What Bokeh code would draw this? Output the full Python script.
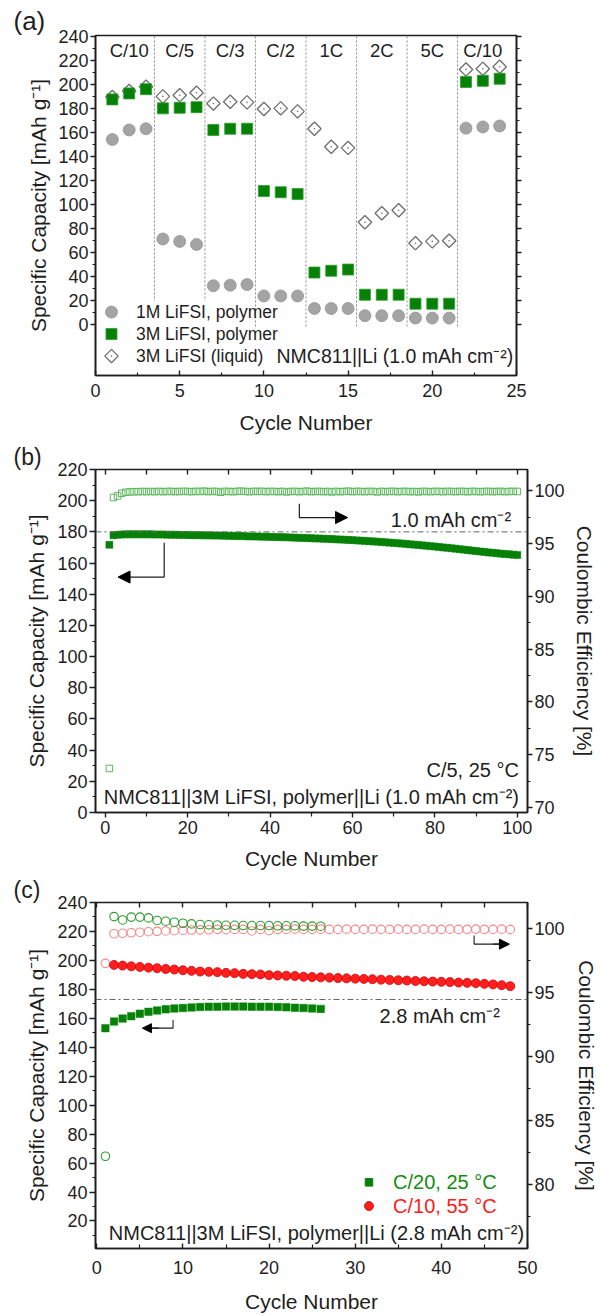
import numpy as np
from bokeh.plotting import figure
from bokeh.models import (Range1d, LinearAxis, FixedTicker, Label, Arrow, NormalHead,
                          Span, CustomJSTickFormatter, Title)
from bokeh.layouts import column
from bokeh.embed import file_html
from bokeh.resources import INLINE
from bokeh.core.properties import value

FONT = "Liberation Sans"
INK = "#1e1e1e"

# ---------------- Panel (a): rate capability ----------------
cycles_a = list(range(1, 25))
cap_1m_poly = [154, 162, 163, 71, 69, 66.5, 32, 32.5, 33, 23.5, 23.5, 23.5,
               13, 13, 13, 7, 7, 7, 5, 5, 5, 163.5, 164.5, 165.3]
cap_3m_poly = [187.5, 192.5, 196, 180, 180.5, 181, 162, 163, 163, 111, 110, 108.5,
               43, 44.5, 45.5, 24.5, 24.5, 24.5, 17, 17, 17, 202, 203, 204.7]
cap_3m_liq = [189.5, 194.5, 198, 190, 191, 193, 184, 185.5, 185, 179.5, 180, 177.5,
              163, 148, 147, 85, 92.5, 95, 67.5, 69, 69.5, 212.5, 213, 214.7]
rate_labels = ["C/10", "C/5", "C/3", "C/2", "1C", "2C", "5C", "C/10"]
rate_centers = [2, 5, 8, 11, 14, 17, 20, 23]
rate_bounds = [3.5, 6.5, 9.5, 12.5, 15.5, 18.5, 21.5]
legend_a = ["1M LiFSI, polymer", "3M LiFSI, polymer", "3M LiFSI (liquid)"]

# ---------------- Panel (b): long-term cycling ----------------
cycles_b = list(range(1, 101))
cap_b = [171.7,
         177.8, 178.1, 178.3, 178.4, 178.4, 178.4, 178.4, 178.4, 178.4,
         178.4, 178.3, 178.3, 178.3, 178.2, 178.2, 178.1, 178.1, 178.0, 178.0,
         177.9, 177.9, 177.8, 177.8, 177.7, 177.7, 177.6, 177.6, 177.5, 177.5,
         177.4, 177.3, 177.3, 177.2, 177.1, 177.1, 177.0, 176.9, 176.9, 176.8,
         176.7, 176.6, 176.6, 176.5, 176.4, 176.3, 176.2, 176.1, 176.0, 175.9,
         175.8, 175.7, 175.6, 175.5, 175.4, 175.2, 175.1, 175.0, 174.8, 174.7,
         174.5, 174.4, 174.2, 174.0, 173.9, 173.7, 173.5, 173.3, 173.1, 172.9,
         172.7, 172.5, 172.3, 172.0, 171.8, 171.6, 171.3, 171.1, 170.8, 170.6,
         170.3, 170.0, 169.8, 169.5, 169.2, 168.9, 168.6, 168.3, 168.0, 167.7,
         167.4, 167.1, 166.8, 166.6, 166.3, 166.0, 165.8, 165.6, 165.4, 165.2]
ce_b = [73.7, 99.35, 99.5, 99.75, 99.85, 99.88, 99.9, 99.9, 99.92, 99.9,
        99.92, 99.9, 99.93, 99.9, 99.92, 99.93, 99.9, 99.92, 99.93, 99.92,
        99.9, 99.93, 99.92, 99.95, 99.9, 99.93, 99.92, 99.85, 99.93, 99.92,
        99.9, 99.93, 99.95, 99.92, 99.9, 99.93, 99.92, 99.94, 99.9, 99.93,
        99.92, 99.9, 99.93, 99.88, 99.92, 99.93, 99.9, 99.92, 99.95, 99.9,
        99.92, 99.93, 99.9, 99.92, 99.88, 99.93, 99.9, 99.92, 99.95, 99.9,
        99.93, 99.92, 99.9, 99.93, 99.92, 99.88, 99.93, 99.9, 99.92, 99.93,
        99.9, 99.92, 99.93, 99.9, 99.92, 99.88, 99.93, 99.92, 99.9, 99.93,
        99.92, 99.9, 99.93, 99.92, 99.9, 99.93, 99.92, 99.9, 99.93, 99.92,
        99.9, 99.92, 99.93, 99.9, 99.92, 99.93, 99.9, 99.92, 99.93, 99.92]

# ---------------- Panel (c): high loading ----------------
cycles_c_green = list(range(1, 27))
cap_c_green = [153.2, 157.8, 159.8, 161.5, 163.2, 164.5, 165.4, 166.2, 166.8, 167.1,
               167.5, 167.8, 168.0, 168.0, 168.1, 168.1, 168.1, 168.0, 168.0, 168.0,
               167.8, 167.6, 167.3, 167.1, 166.8, 166.5]
ce_c_green = [82.2, 100.9, 100.64, 100.86, 100.86, 100.8, 100.6, 100.54, 100.46, 100.38,
              100.33, 100.28, 100.26, 100.24, 100.22, 100.22, 100.2, 100.2, 100.2, 100.2,
              100.18, 100.18, 100.18, 100.16, 100.16, 100.15]
cycles_c_red_cap = list(range(2, 49))
cap_c_red = [196.9, 196.4, 195.9, 195.5, 195.0, 194.6, 194.1, 193.7, 193.2, 192.8,
             192.3, 192.1, 191.9, 191.4, 191.2, 190.7, 190.5, 190.3, 189.8, 189.6,
             189.4, 189.2, 188.7, 188.5, 188.3, 188.1, 187.8, 187.6, 187.4, 187.2,
             187.0, 186.7, 186.5, 186.3, 186.1, 185.8, 185.6, 185.4, 185.2, 185.0,
             184.7, 184.5, 184.3, 183.8, 183.4, 182.9, 182.2]
cycles_c_red_ce = list(range(1, 49))
ce_c_red = [97.25, 99.56, 99.6, 99.64, 99.68, 99.72, 99.75, 99.78, 99.8, 99.82,
            99.85, 99.86, 99.87, 99.9, 99.88, 99.9, 99.9, 99.78, 99.9, 99.8,
            99.9, 99.9, 99.92, 99.9, 99.9, 99.92, 99.9, 99.9, 99.92, 99.9,
            99.9, 99.92, 99.9, 99.9, 99.92, 99.9, 99.9, 99.92, 99.9, 99.9,
            99.92, 99.9, 99.9, 99.92, 99.9, 99.9, 99.92, 99.9]
legend_c = ["C/20, 25 \u00b0C", "C/10, 55 \u00b0C"]

GREEN = "#078007"
LGREEN = "#5cb85c"
RED = "#ff1f1f"
LRED = "#f28a8a"
GRAY = "#a4a4a4"

BLANK = CustomJSTickFormatter(code="return ''")

# common borders (column layouts align the borders of the three plots)
BL, BR = 95, 72


def style_axis(ax, tick_in=0, tick_out=5, minor_in=0, minor_out=3, label_size="18px"):
    ax.axis_line_color = INK
    ax.axis_line_width = 1.6
    ax.major_tick_line_color = INK
    ax.major_tick_line_width = 1.4
    ax.minor_tick_line_color = INK
    ax.minor_tick_line_width = 1.2
    ax.major_tick_in = tick_in
    ax.major_tick_out = tick_out
    ax.minor_tick_in = minor_in
    ax.minor_tick_out = minor_out
    ax.major_label_text_font = FONT
    ax.major_label_text_font_size = label_size
    ax.major_label_text_color = INK
    ax.axis_label_text_font = FONT
    ax.axis_label_text_font_size = "21px"
    ax.axis_label_text_font_style = "normal"
    ax.axis_label_text_color = INK


def base_fig(w, h, xr, yr, bt, bb, tag, tag_size):
    p = figure(width=w, height=h, x_range=xr, y_range=yr, output_backend="svg",
               toolbar_location=None, min_border_left=BL, min_border_right=BR,
               min_border_top=bt, min_border_bottom=bb)
    p.title = Title(text=tag, align="left", offset=13 - BL, standoff=0,
                    text_font=FONT, text_font_size=tag_size, text_font_style="normal",
                    text_color=INK)
    p.xgrid.visible = False
    p.ygrid.visible = False
    p.outline_line_color = INK
    p.outline_line_width = 1.6
    p.background_fill_color = "white"
    p.border_fill_color = "white"
    return p


def txt(p, x, y, s, size="20px", align="left", color=INK, baseline="middle", yr="default"):
    p.add_layout(Label(x=x, y=y, text=s, text_font=FONT, text_font_size=size,
                       text_align=align, text_baseline=baseline, text_color=color,
                       y_range_name=yr))


# ======================= Figure (a) =======================
pa = base_fig(589, 440, Range1d(0, 25), Range1d(-42.9, 240.8), 35, 65, "(a)", "26px")
pa.xaxis.ticker = FixedTicker(ticks=[0, 5, 10, 15, 20, 25],
                              minor_ticks=[2.5, 7.5, 12.5, 17.5, 22.5])
pa.yaxis.ticker = FixedTicker(ticks=list(range(0, 241, 20)),
                              minor_ticks=list(range(10, 240, 20)))
pa.xaxis.axis_label = "Cycle Number"
pa.yaxis.axis_label = "Specific Capacity [mAh g\u207b\u00b9]"
style_axis(pa.xaxis[0], tick_in=5, tick_out=0, minor_in=3, minor_out=0)
style_axis(pa.yaxis[0], tick_out=5, minor_out=3)
pa.xaxis.major_label_standoff = 8
pa.yaxis.major_label_standoff = 2
pa.xaxis.axis_label_standoff = 11
pa.yaxis.axis_label_standoff = 5
ra = LinearAxis(ticker=FixedTicker(ticks=list(range(0, 241, 20)),
                                   minor_ticks=list(range(10, 240, 20))),
                formatter=BLANK)
style_axis(ra, tick_out=5, minor_out=3)
pa.add_layout(ra, "right")

pa.segment(x0=rate_bounds, y0=-2, x1=rate_bounds, y1=240.8, line_color="#8a8a8a",
           line_width=1, line_dash="2 2")
pa.quad(left=[0.35], right=[6.9], bottom=[-41], top=[19.5], fill_color="white",
        line_color=None)
pa.text(x=rate_centers, y=[228.5] * 8, text=rate_labels, text_font=value(FONT),
        text_font_size="18.5px", text_align="center", text_baseline="middle",
        text_color=INK)

pa.scatter(cycles_a, cap_3m_liq, marker="square", angle=np.pi / 4, size=9.5,
           fill_color="white", line_color="#6e6e6e", line_width=1.3)
pa.scatter(cycles_a, cap_3m_liq, marker="circle", size=1.6, fill_color="#6e6e6e",
           line_color=None)
pa.scatter(cycles_a, cap_3m_poly, marker="square", size=11, fill_color=GREEN,
           line_color="#2aa02a", line_width=0.8)
pa.scatter(cycles_a, cap_1m_poly, marker="circle", size=12, fill_color=GRAY,
           line_color="#939393", line_width=0.8)

# legend (a)
leg_y = [10, -8.3, -26.7]
pa.scatter([0.95], [leg_y[0]], marker="circle", size=12, fill_color=GRAY,
           line_color="#939393", line_width=0.8)
pa.scatter([0.95], [leg_y[1]], marker="square", size=11, fill_color=GREEN,
           line_color="#2aa02a", line_width=0.8)
pa.scatter([0.95], [leg_y[2]], marker="square", angle=np.pi / 4, size=9.5,
           fill_color="white", line_color="#6e6e6e", line_width=1.3)
pa.scatter([0.95], [leg_y[2]], marker="circle", size=1.6, fill_color="#6e6e6e",
           line_color=None)
pa.text(x=[2.4] * 3, y=leg_y, text=legend_a, text_font=value(FONT),
        text_font_size="17.5px", text_align="left", text_baseline="middle",
        text_color=INK)
txt(pa, 10.75, -26.7, "NMC811||Li (1.0 mAh cm\u207b\u00b2)", size="19.5px")

# ======================= Figure (b) =======================
pb = base_fig(600, 432, Range1d(-2.37, 102.47), Range1d(0, 220), 29, 56, "(b)", "23px")
pb.extra_y_ranges = {"ce": Range1d(69.53, 102)}
pb.xaxis.ticker = FixedTicker(ticks=list(range(0, 101, 20)),
                              minor_ticks=list(range(10, 100, 20)))
pb.yaxis.ticker = FixedTicker(ticks=list(range(0, 221, 20)),
                              minor_ticks=list(range(10, 220, 20)))
pb.xaxis.axis_label = "Cycle Number"
pb.yaxis.axis_label = "Specific Capacity [mAh g\u207b\u00b9]"
style_axis(pb.xaxis[0], tick_out=5, minor_out=4)
style_axis(pb.yaxis[0], tick_out=6, minor_out=3)
pb.xaxis.major_label_standoff = 3
pb.yaxis.major_label_standoff = 2
pb.xaxis.axis_label_standoff = 10
pb.yaxis.axis_label_standoff = 6
rb = LinearAxis(y_range_name="ce", axis_label="Coulombic Efficiency [%]",
                ticker=FixedTicker(ticks=[70, 75, 80, 85, 90, 95, 100],
                                   minor_ticks=[72.5, 77.5, 82.5, 87.5, 92.5, 97.5]))
style_axis(rb, tick_out=5, minor_out=3)
rb.major_label_standoff = 2
rb.axis_label_standoff = 5
pb.add_layout(rb, "right")
tb = LinearAxis(ticker=FixedTicker(ticks=list(range(0, 101, 10)), minor_ticks=[]),
                formatter=BLANK)
style_axis(tb, tick_in=5, tick_out=0, minor_in=0, minor_out=0)
tb.axis_line_alpha = 0
pb.add_layout(tb, "above")

pb.add_layout(Span(location=180, dimension="width", line_color="#666666",
                   line_width=1, line_dash="6 3 2 3"))
pb.scatter(cycles_b, ce_b, y_range_name="ce", marker="square", size=6.5,
           fill_color="white", fill_alpha=0, line_color=LGREEN, line_width=1)
pb.scatter(cycles_b, cap_b, marker="square", size=7, fill_color=GREEN,
           line_color=GREEN, line_width=0.5)

# arrows (b)
pb.line([14.3, 14.3, 3.6], [173, 151, 151], line_color=INK, line_width=1.2)
pb.add_layout(Arrow(end=NormalHead(size=12, fill_color="black", line_color="black"),
                    x_start=6, y_start=151, x_end=3.1, y_end=151,
                    line_color=INK, line_width=1.2))
pb.line([47.1, 47.1, 58.0], [98.75, 97.45, 97.45], y_range_name="ce",
        line_color=INK, line_width=1.2)
pb.add_layout(Arrow(end=NormalHead(size=12, fill_color="black", line_color="black"),
                    x_start=55, y_start=97.45, x_end=58.8, y_end=97.45,
                    y_range_name="ce", line_color=INK, line_width=1.2))

txt(pb, 98.5, 187.7, "1.0 mAh cm\u207b\u00b2", align="right")
txt(pb, 100.4, 27.4, "C/5, 25 \u00b0C", align="right")
txt(pb, 100.4, 10.1, "NMC811||3M LiFSI, polymer||Li (1.0 mAh cm\u207b\u00b2)",
    align="right")

# ======================= Figure (c) =======================
pc = base_fig(600, 443, Range1d(-0.15, 50), Range1d(1, 240), 30, 63, "(c)", "23px")
pc.extra_y_ranges = {"ce": Range1d(75, 102)}
pc.xaxis.ticker = FixedTicker(ticks=list(range(0, 51, 10)),
                              minor_ticks=list(range(5, 50, 10)))
pc.yaxis.ticker = FixedTicker(ticks=list(range(20, 241, 20)),
                              minor_ticks=list(range(10, 240, 20)))
pc.xaxis.axis_label = "Cycle Number"
pc.yaxis.axis_label = "Specific Capacity [mAh g\u207b\u00b9]"
style_axis(pc.xaxis[0], tick_in=5, tick_out=0, minor_in=4, minor_out=0)
style_axis(pc.yaxis[0], tick_out=6, minor_out=3)
pc.xaxis.major_label_standoff = 12
pc.yaxis.major_label_standoff = 2
pc.xaxis.axis_label_standoff = 13
pc.yaxis.axis_label_standoff = 6
rc = LinearAxis(y_range_name="ce", axis_label="Coulombic Efficiency [%]",
                ticker=FixedTicker(ticks=[80, 85, 90, 95, 100],
                                   minor_ticks=[77.5, 82.5, 87.5, 92.5, 97.5]))
style_axis(rc, tick_out=5, minor_out=3)
rc.major_label_standoff = 2
rc.axis_label_standoff = 7
pc.add_layout(rc, "right")
tc = LinearAxis(ticker=FixedTicker(ticks=list(range(0, 51, 5)), minor_ticks=[]),
                formatter=BLANK)
style_axis(tc, tick_in=5, tick_out=0, minor_in=0, minor_out=0)
tc.axis_line_alpha = 0
pc.add_layout(tc, "above")

pc.add_layout(Span(location=173, dimension="width", line_color="#666666",
                   line_width=1, line_dash="6 3 2 3"))
pc.scatter(cycles_c_red_ce, ce_c_red, y_range_name="ce", marker="circle", size=8.5,
           fill_color="white", fill_alpha=0, line_color=LRED, line_width=1.1)
pc.scatter(cycles_c_green, ce_c_green, y_range_name="ce", marker="circle", size=8.5,
           fill_color="white", fill_alpha=0, line_color="#2e9a2e", line_width=1.1)
pc.scatter(cycles_c_red_cap, cap_c_red, marker="circle", size=9, fill_color=RED,
           line_color="#d40000", line_width=0.8)
pc.scatter(cycles_c_green, cap_c_green, marker="square", size=7.5, fill_color=GREEN,
           line_color=GREEN, line_width=0.5)

# arrows (c)
pc.line([8.85, 8.85, 5.8], [158.9, 153.2, 153.2], line_color=INK, line_width=1.1)
pc.add_layout(Arrow(end=NormalHead(size=9, fill_color="black", line_color="black"),
                    x_start=7.2, y_start=153.2, x_end=5.3, y_end=153.2,
                    line_color=INK, line_width=1.1))
pc.line([43.8, 43.8, 47.2], [99.43, 98.75, 98.75], y_range_name="ce",
        line_color=INK, line_width=1.1)
pc.add_layout(Arrow(end=NormalHead(size=10, fill_color="black", line_color="black"),
                    x_start=46, y_start=98.75, x_end=47.9, y_end=98.75,
                    y_range_name="ce", line_color=INK, line_width=1.1))

txt(pc, 46.8, 161.6, "2.8 mAh cm\u207b\u00b2", align="right")
# legend (c)
pc.scatter([31.6], [46.7], marker="square", size=7.5, fill_color=GREEN,
           line_color=GREEN)
pc.scatter([31.6], [30.3], marker="circle", size=9, fill_color=RED,
           line_color="#d40000", line_width=0.8)
txt(pc, 34.4, 46.7, legend_c[0], color="#128c12")
txt(pc, 34.4, 30.3, legend_c[1], color="#ff1a1a")
txt(pc, 49.6, 11.7, "NMC811||3M LiFSI, polymer||Li (2.8 mAh cm\u207b\u00b2)",
    align="right")

layout = column(pa, pb, pc, spacing=0)
open("out.html", "w").write(file_html(layout, INLINE))
